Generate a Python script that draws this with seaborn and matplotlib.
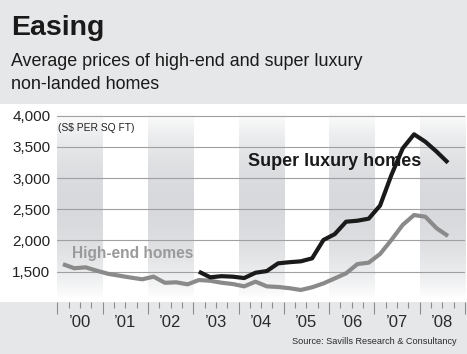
import numpy as np
import pandas as pd
import matplotlib
matplotlib.use("Agg")
import matplotlib.pyplot as plt
import seaborn as sns
from matplotlib.patches import Rectangle
from matplotlib.transforms import blended_transform_factory

# ---- data (quarterly, S$ per sq ft) ----
years = list(range(2000, 2009))
year_labels = ["\u201900", "\u201901", "\u201902", "\u201903", "\u201904",
               "\u201905", "\u201906", "\u201907", "\u201908"]
y_ticks = [1500, 2000, 2500, 3000, 3500, 4000]
shaded_years = [2000, 2002, 2004, 2006, 2008]

high_end = [1620, 1555, 1570, 1515,
            1465, 1435, 1405, 1378,
            1420, 1322, 1330, 1297,
            1366, 1355, 1323, 1302,
            1265, 1340, 1265, 1255,
            1235, 1207, 1250, 1312,
            1392, 1474, 1622, 1645,
            1784, 2008, 2250, 2408,
            2381, 2195, 2072]
high_start = 2000  # first quarter: 2000 Q1

super_luxury = [1500, 1410, 1428, 1420,
                1398, 1483, 1510, 1634,
                1652, 1666, 1714, 2008,
                2102, 2301, 2317, 2350,
                2560, 3049, 3477, 3702,
                3583, 3423, 3247]
super_start = 2003  # first quarter: 2003 Q1

def quarter_frame(values, start_year, name):
    q = np.arange(len(values))
    return pd.DataFrame({"t": start_year + q / 4 + 0.125, "price": values, "series": name})

df_high = quarter_frame(high_end, high_start, "High-end homes")
df_super = quarter_frame(super_luxury, super_start, "Super luxury homes")

# ---- style ----
sns.set_style("white")
plt.rcParams["font.family"] = ["Liberation Sans", "DejaVu Sans"]

W, H = 467, 354
fig = plt.figure(figsize=(W / 100, H / 100), dpi=100)
fig.patch.set_facecolor("#e6e7e9")

def fx(px):
    return px / W

def fy(py):
    return 1 - py / H

# white panel
fig.add_artist(Rectangle((0, fy(302)), 1, (302 - 104) / H, transform=fig.transFigure,
                         facecolor="white", edgecolor="none", zorder=-1))

ax = fig.add_axes([fx(57.3), fy(302), (465 - 57.3) / W, (302 - 104) / H])
ax.set_facecolor("white")

ylo, yhi = 1014, 4188
xlo, xhi = 2000.0, 2008.9

# shaded alternating-year bands with vertical gradient
n = 200
s = np.linspace(0, 1, n)  # 0 = top, 1 = bottom
alpha = np.clip(np.sin(np.pi * np.clip((s - 0.04) / 0.94, 0, 1)) ** 0.8, 0, 1)
img = np.zeros((n, 2, 4))
img[..., 0] = 0.845
img[..., 1] = 0.853
img[..., 2] = 0.865
img[..., 3] = alpha[:, None]
for yr in shaded_years:
    ax.imshow(img, extent=(yr, yr + 1, ylo, yhi), aspect="auto", zorder=0,
              interpolation="bilinear")

# lines
sns.lineplot(data=df_high, x="t", y="price", color="#8a8a8a", lw=3.0, ax=ax,
             solid_joinstyle="round", solid_capstyle="butt", zorder=3)
sns.lineplot(data=df_super, x="t", y="price", color="#1a1a1a", lw=3.0, ax=ax,
             solid_joinstyle="round", solid_capstyle="butt", zorder=4)

ax.set_xlim(xlo, xhi)
ax.set_ylim(ylo, yhi)
ax.set_xlabel("")
ax.set_ylabel("")
for sp in ax.spines.values():
    sp.set_visible(False)

ax.set_yticks(y_ticks)
ax.set_yticklabels([f"{v:,}" for v in y_ticks])
ax.yaxis.grid(True, color="#a0a0a0", lw=0.8)
ax.xaxis.grid(False)
ax.tick_params(axis="y", length=0, pad=5, labelsize=11, labelcolor="#222222")

ax.set_xticks(years + [2009])
ax.set_xticklabels([])
ax.set_xticks([y + q / 4 for y in years for q in (1, 2, 3)], minor=True)
ax.tick_params(axis="x", which="major", direction="out", length=8.5, width=0.8,
               color="#8c8c8c", bottom=True)
ax.tick_params(axis="x", which="minor", direction="out", length=4.5, width=0.8,
               color="#8c8c8c", bottom=True)

tr = blended_transform_factory(ax.transData, ax.transAxes)
for yr, lab in zip(years, year_labels):
    ax.text(yr + 0.5, -0.105, lab, transform=tr, ha="center", va="center",
            fontsize=12, color="#2a2a2a", clip_on=False)

# texts
fig.text(fx(11), fy(35), "Easing", fontsize=20.5, fontweight="bold", color="#1a1a1a",
         va="baseline", ha="left")
fig.text(fx(11), fy(65.7), "Average prices of high-end and super luxury",
         fontsize=12.9, color="#1a1a1a", va="baseline", ha="left")
fig.text(fx(11), fy(89.5), "non-landed homes",
         fontsize=12.9, color="#1a1a1a", va="baseline", ha="left")
fig.text(fx(58), fy(131), "(S$ PER SQ FT)", fontsize=7.4, color="#222222",
         va="baseline", ha="left")
fig.text(fx(248), fy(165.7), "Super luxury homes", fontsize=13, fontweight="bold",
         color="#1a1a1a", va="baseline", ha="left")
fig.text(fx(72), fy(258.3), "High-end homes", fontsize=11.2, fontweight="bold",
         color="#9a9a9a", va="baseline", ha="left")
fig.text(fx(456.5), fy(344), "Source: Savills Research & Consultancy", fontsize=6.6,
         color="#2a2a2a", va="baseline", ha="right")

fig.savefig("out.png", dpi=100, facecolor=fig.get_facecolor())
